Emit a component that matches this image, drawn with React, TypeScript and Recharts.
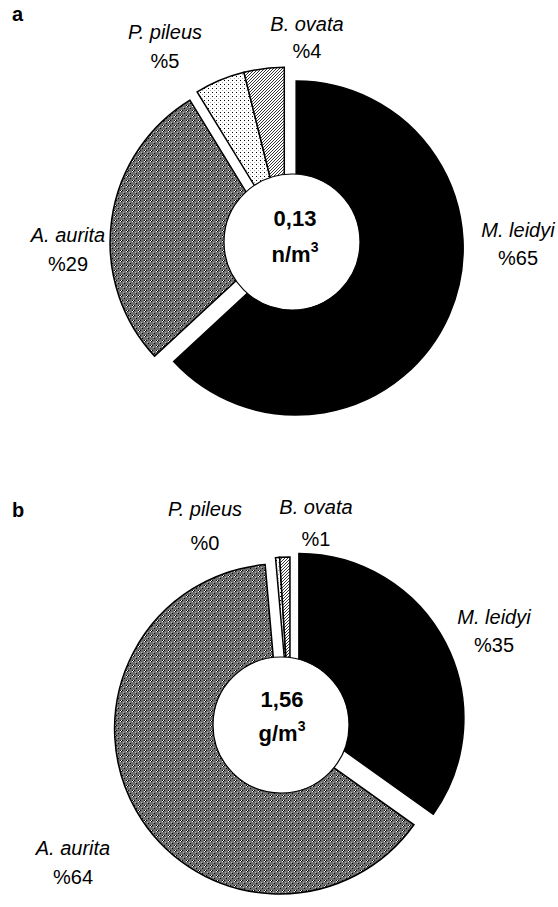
import React from "react";
import { PieChart, Pie, Cell } from "recharts";

// species order = drawing order, clockwise from 12 o'clock
const species = ["M. leidyi", "A. aurita", "P. pileus", "B. ovata"];
const abundanceShare = [65, 29, 5, 4]; // panel a, % of n/m3
const biomassShare = [35, 64, 0.4, 1]; // panel b, % of g/m3 (P. pileus rounds to 0)
const panelLetters = ["a", "b"];
const totals = ["0,13", "1,56"];
const units = ["n/m", "g/m"];

const fills = ["#000", "url(#aurita)", "url(#pileus)", "url(#ovata)"];
// slices that are pulled out together
const groups = [[0], [1], [2, 3]];

const FONT = "'Liberation Sans', Arial, Helvetica, sans-serif";

interface LabelPos {
  x: number;
  y1: number;
  y2: number;
}

interface PanelLayout {
  values: number[];
  cx: number;
  cy: number;
  r: number;
  explode: number[];
  hole: { x: number; y: number; r: number };
  letter: { x: number; y: number };
  center: LabelPos;
  labels: LabelPos[];
}

const panels: PanelLayout[] = [
  {
    values: abundanceShare,
    cx: 287,
    cy: 244,
    r: 167,
    explode: [10, 10, 10],
    hole: { x: 292, y: 242, r: 68 },
    letter: { x: 12, y: 21 },
    center: { x: 295, y1: 226, y2: 262 },
    labels: [
      { x: 518, y1: 237, y2: 265 },
      { x: 68, y1: 242, y2: 271 },
      { x: 165, y1: 39, y2: 68 },
      { x: 307, y1: 31, y2: 58 },
    ],
  },
  {
    values: biomassShare,
    cx: 290,
    cy: 723,
    r: 165,
    explode: [10, 12, 1],
    hole: { x: 281, y: 725, r: 68 },
    letter: { x: 12, y: 517 },
    center: { x: 282, y1: 707, y2: 741 },
    labels: [
      { x: 494, y1: 624, y2: 652 },
      { x: 73, y1: 855, y2: 884 },
      { x: 205, y1: 516, y2: 550 },
      { x: 316, y1: 514, y2: 546 },
    ],
  },
];

function groupCenter(values: number[], group: number[], cx: number, cy: number, d: number) {
  const total = values.reduce((s, v) => s + v, 0);
  const start = values.slice(0, group[0]).reduce((s, v) => s + v, 0);
  const size = group.reduce((s, i) => s + values[i], 0);
  const theta = ((start + size / 2) / total) * 2 * Math.PI;
  return { x: cx + Math.sin(theta) * d, y: cy - Math.cos(theta) * d };
}

function Patterns() {
  return (
    <svg width={0} height={0} style={{ position: "absolute" }}>
      <defs>
        <pattern id="aurita" width={6} height={5} patternUnits="userSpaceOnUse" shapeRendering="crispEdges">
          <rect width={6} height={5} fill="#6f6f6f" />
          <rect x={0} y={0} width={1} height={1} fill="#000" />
          <rect x={1} y={0} width={1} height={1} fill="#fff" />
          <rect x={0} y={1} width={1} height={1} fill="#fff" />
          <rect x={1} y={1} width={1} height={1} fill="#000" />
          <rect x={2} y={0} width={1} height={1} fill="#000" />
          <rect x={4} y={3} width={1} height={1} fill="#000" />
          <rect x={3} y={2} width={1} height={1} fill="#bbb" />
        </pattern>
        <pattern id="pileus" width={4} height={4} patternUnits="userSpaceOnUse" shapeRendering="crispEdges">
          <rect width={4} height={4} fill="#fff" />
          <rect x={0} y={0} width={1} height={1} fill="#000" />
          <rect x={2} y={2} width={1} height={1} fill="#aaa" />
        </pattern>
        <pattern id="ovata" width={3} height={3} patternUnits="userSpaceOnUse">
          <rect width={3} height={3} fill="#fff" />
          <path d="M0,3 L3,0 M-1,1 L1,-1 M2,4 L4,2" stroke="#000" strokeWidth={0.8} />
        </pattern>
      </defs>
    </svg>
  );
}

export default function App() {
  return (
    <div style={{ position: "absolute", left: 0, top: 0, width: 558, height: 907, background: "#fff" }}>
      <Patterns />
      <PieChart width={558} height={907} margin={{ top: 0, right: 0, bottom: 0, left: 0 }}>
        {panels.flatMap((p, pi) => {
          const data = p.values.map((v, i) => ({ name: species[i], value: v }));
          return groups.map((g, gi) => {
            const c = groupCenter(p.values, g, p.cx, p.cy, p.explode[gi]);
            return (
              <Pie
                key={`${pi}-${gi}`}
                data={data}
                dataKey="value"
                cx={c.x}
                cy={c.y}
                innerRadius={0}
                outerRadius={p.r}
                startAngle={90}
                endAngle={-270}
                paddingAngle={0}
                labelLine={false}
                isAnimationActive={false}
              >
                {data.map((_, i) => (
                  <Cell
                    key={i}
                    fill={g.includes(i) ? fills[i] : "none"}
                    stroke={g.includes(i) ? "#000" : "none"}
                    strokeWidth={1.5}
                  />
                ))}
              </Pie>
            );
          });
        })}
      </PieChart>
      <svg
        width={558}
        height={907}
        style={{ position: "absolute", left: 0, top: 0, pointerEvents: "none" }}
        fontFamily={FONT}
      >
        {panels.map((p, pi) => (
          <g key={pi}>
            <text x={p.letter.x} y={p.letter.y} fontSize={20} fontWeight="bold">
              {panelLetters[pi]}
            </text>
            <circle cx={p.hole.x} cy={p.hole.y} r={p.hole.r} fill="#fff" stroke="#000" strokeWidth={1.2} />
            <text x={p.center.x} y={p.center.y1} fontSize={22} fontWeight="bold" textAnchor="middle">
              {totals[pi]}
            </text>
            <text x={p.center.x} y={p.center.y2} fontSize={22} fontWeight="bold" textAnchor="middle">
              <tspan>{units[pi]}</tspan>
              <tspan dy={-10} fontSize={14}>3</tspan>
            </text>
            {p.labels.map((l, i) => (
              <g key={i}>
                <text x={l.x} y={l.y1} fontSize={20} fontStyle="italic" textAnchor="middle">
                  {species[i]}
                </text>
                <text x={l.x} y={l.y2} fontSize={20} textAnchor="middle">
                  {`%${Math.round(p.values[i])}`}
                </text>
              </g>
            ))}
          </g>
        ))}
      </svg>
    </div>
  );
}
